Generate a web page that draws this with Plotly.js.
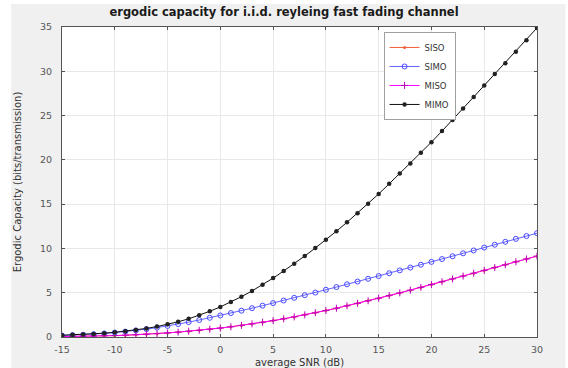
<!DOCTYPE html>
<html>
<head>
<meta charset="utf-8">
<script src="https://cdn.plot.ly/plotly-3.0.1.min.js"></script>
<style>html,body{margin:0;padding:0;background:#fff;}#chart{width:568px;height:368px;}</style>
</head>
<body>
<div id="chart"></div>
<script>
const snr = [-15,-14,-13,-12,-11,-10,-9,-8,-7,-6,-5,-4,-3,-2,-1,0,1,2,3,4,5,6,7,8,9,10,11,12,13,14,15,16,17,18,19,20,21,22,23,24,25,26,27,28,29,30];
const siso = [0.05,0.06,0.08,0.10,0.13,0.16,0.20,0.25,0.31,0.38,0.46,0.55,0.65,0.76,0.88,1.01,1.15,1.31,1.48,1.66,1.85,2.05,2.27,2.50,2.74,2.99,3.25,3.52,3.80,4.09,4.38,4.68,4.98,5.29,5.60,5.92,6.24,6.56,6.88,7.20,7.52,7.84,8.16,8.49,8.81,9.13];
const simo = [0.17,0.21,0.26,0.32,0.40,0.50,0.61,0.74,0.89,1.06,1.25,1.46,1.68,1.92,2.17,2.43,2.70,2.97,3.25,3.54,3.83,4.12,4.42,4.72,5.02,5.33,5.64,5.95,6.26,6.57,6.88,7.20,7.52,7.84,8.16,8.48,8.80,9.12,9.45,9.77,10.10,10.42,10.75,11.08,11.40,11.72];
const miso = [0.05,0.06,0.08,0.10,0.13,0.16,0.20,0.25,0.31,0.38,0.46,0.55,0.65,0.76,0.88,1.01,1.15,1.31,1.48,1.66,1.85,2.05,2.27,2.50,2.74,2.99,3.25,3.52,3.80,4.09,4.38,4.68,4.98,5.29,5.60,5.92,6.24,6.56,6.88,7.20,7.52,7.84,8.16,8.49,8.81,9.13];
const mimo = [0.20,0.24,0.29,0.35,0.43,0.53,0.65,0.80,0.97,1.18,1.43,1.72,2.05,2.45,2.90,3.40,3.95,4.55,5.20,5.90,6.65,7.45,8.28,9.15,10.05,10.98,11.95,12.95,13.98,15.05,16.15,17.30,18.45,19.60,20.80,22.00,23.25,24.50,25.80,27.10,28.40,29.70,30.90,32.20,33.50,34.90];
const names = ['SISO','SIMO','MISO','MIMO'];
const xTicks = [-15,-10,-5,0,5,10,15,20,25,30];
const yTicks = [0,5,10,15,20,25,30,35];

const traces = [
  {x: snr, y: siso, name: names[0], mode: 'lines+markers', line: {color: '#f0603a', width: 1}, marker: {symbol: 'circle', size: 3, color: '#f0603a'}},
  {x: snr, y: simo, name: names[1], mode: 'lines+markers', line: {color: '#3a3aff', width: 0.8}, marker: {symbol: 'circle-open', size: 5, color: '#4a4aff', line: {width: 1}}},
  {x: snr, y: miso, name: names[2], mode: 'lines+markers', line: {color: '#ff00ff', width: 1}, marker: {symbol: 'cross-thin-open', size: 5, color: '#c000c0', line: {width: 1, color: '#b000b0'}}},
  {x: snr, y: mimo, name: names[3], mode: 'lines+markers', line: {color: '#111111', width: 1}, marker: {symbol: 'circle', size: 4.5, color: '#222222'}}
];

const layout = {
  width: 568, height: 368,
  margin: {l: 62, r: 31, t: 27, b: 31, pad: 0},
  paper_bgcolor: '#ffffff',
  plot_bgcolor: '#ffffff',
  font: {family: 'DejaVu Sans, Liberation Sans, sans-serif', size: 9, color: '#4a4a4a'},
  title: {text: '<b>ergodic capacity for i.i.d. reyleing fast fading channel</b>', x: 0.5, xanchor: 'center', y: 0.967, yanchor: 'middle', font: {family: 'DejaVu Sans, sans-serif', size: 11.5, color: '#1a1a1a'}},
  showlegend: true,
  legend: {x: 0.677, y: 0.984, xanchor: 'left', yanchor: 'top', bgcolor: '#ffffff', bordercolor: '#a0a0a0', borderwidth: 1, font: {family: 'DejaVu Sans, sans-serif', size: 8.5, color: '#333'}, tracegroupgap: 0, itemwidth: 30},
  xaxis: {range: [-15, 30], tickvals: xTicks, ticktext: xTicks.map(String), ticks: 'inside', ticklen: 3, tickcolor: '#555', showline: true, linecolor: '#555', linewidth: 1, mirror: 'ticks', showgrid: true, gridcolor: '#e8e8e8', zeroline: false, ticklabelstandoff: 4, tickfont: {size: 9.5, color: '#555'},
    title: {text: 'average SNR (dB)', standoff: 6, font: {size: 10, color: '#333'}}},
  yaxis: {range: [0, 35], tickvals: yTicks, ticktext: yTicks.map(String), ticks: 'inside', ticklen: 3, tickcolor: '#555', showline: true, linecolor: '#555', linewidth: 1, mirror: 'ticks', showgrid: true, gridcolor: '#e8e8e8', zeroline: false, ticklabelstandoff: 7, tickfont: {size: 9.5, color: '#555'},
    title: {text: 'Ergodic Capacity (bits/transmission)', standoff: 16, font: {size: 10, color: '#333'}}},
  shapes: [
    {type: 'rect', xref: 'paper', yref: 'paper', x0: -0.107, x1: 1.06, y0: -0.12, y1: 1.074, fillcolor: '#f0f0f0', line: {width: 0}, layer: 'below'},
    {type: 'rect', xref: 'paper', yref: 'paper', x0: 0, x1: 1, y0: 0, y1: 1, fillcolor: '#ffffff', line: {width: 0}, layer: 'below'}
  ]
};

Plotly.newPlot('chart', traces, layout, {displayModeBar: false, staticPlot: true});
</script>
</body>
</html>
